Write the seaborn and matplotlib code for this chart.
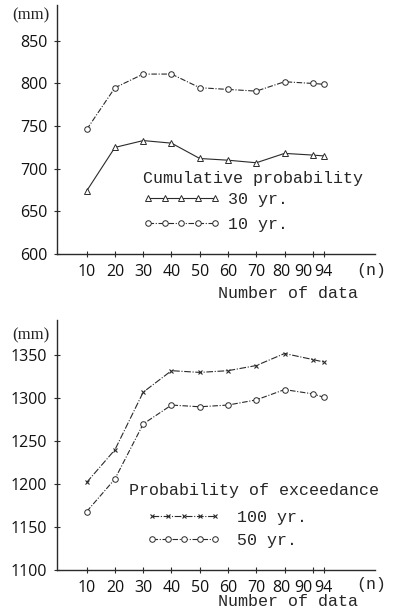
import matplotlib
matplotlib.use("Agg")
import matplotlib.pyplot as plt
import matplotlib.transforms as mtransforms
import seaborn as sns
import pandas as pd

n_data = [10, 20, 30, 40, 50, 60, 70, 80, 90, 94]
x_ticks = [10, 20, 30, 40, 50, 60, 70, 80, 90, 94]

cum_30yr = [674, 725, 733, 730, 712, 710, 707, 718, 716, 715]
cum_10yr = [746, 795, 811, 811, 795, 793, 791, 802, 800, 799]
exc_100yr = [1202, 1240, 1307, 1332, 1330, 1332, 1338, 1352, 1345, 1342]
exc_50yr = [1168, 1206, 1270, 1292, 1290, 1292, 1298, 1310, 1305, 1301]

top_yticks = [600, 650, 700, 750, 800, 850]
bot_yticks = [1100, 1150, 1200, 1250, 1300, 1350]

sns.set_style("ticks")
plt.rcParams['font.family'] = ['Liberation Mono', 'DejaVu Sans']

W, H = 398, 613
fig = plt.figure(figsize=(W / 100, H / 100), dpi=100)

def fx(px):
    return px / W

def fy(py):
    return 1 - py / H

num_font = dict(family=['Open Sans', 'DejaVu Sans'], size=11.5)
mono = ['Liberation Mono', 'DejaVu Sans']
col = '#2a2a2a'

def style_axis(ax, ylim, yticks):
    ax.set_xlim(-0.5, 112)
    ax.set_ylim(*ylim)
    ax.set_xticks(x_ticks)
    ax.set_yticks(yticks)
    ax.set_xticklabels([str(v) for v in x_ticks], fontdict=num_font)
    ax.set_yticklabels([str(v) for v in yticks], fontdict=num_font)
    ax.tick_params(direction='inout', length=4, width=0.8, color=col,
                   labelcolor='#111111')
    ax.tick_params(axis='x', pad=5)
    ax.tick_params(axis='y', pad=5)
    labels = ax.get_xticklabels()
    for lab, dx in ((labels[-3], -3), (labels[-2], -9), (labels[-1], -1)):
        off = mtransforms.ScaledTranslation(dx / 100, 0, fig.dpi_scale_trans)
        lab.set_transform(lab.get_transform() + off)
    sns.despine(ax=ax)
    for s in ['left', 'bottom']:
        ax.spines[s].set_linewidth(1.0)
        ax.spines[s].set_color(col)
    ax.set_xlabel('')
    ax.set_ylabel('')

# ---------- Top panel ----------
ax1 = fig.add_axes([fx(57), fy(254), fx(375 - 57), (254 - 5) / H])
df1 = pd.DataFrame({'n': n_data, '30 yr.': cum_30yr, '10 yr.': cum_10yr})
sns.lineplot(data=df1, x='n', y='30 yr.', ax=ax1, color=col, lw=0.8,
             marker='^', markersize=4.5, markerfacecolor='white',
             markeredgecolor=col, markeredgewidth=0.7, linestyle='-')
sns.lineplot(data=df1, x='n', y='10 yr.', ax=ax1, color=col, lw=0.8,
             marker='o', markersize=4, markerfacecolor='white',
             markeredgecolor=col, markeredgewidth=0.7,
             linestyle=(0, (5, 1.5, 1, 1.5)))
style_axis(ax1, (600, 892), top_yticks)
h1 = ax1.get_lines()[:2]
ax1.legend(h1, ['30 yr.', '10 yr.'], loc='upper left',
           bbox_to_anchor=(fx(143), fy(191.7)), bbox_transform=fig.transFigure,
           frameon=False, borderpad=0, borderaxespad=0, numpoints=5,
           handlelength=4.6, handletextpad=0.5, labelspacing=0.62,
           prop=dict(family=mono, size=12))
fig.text(fx(143), fy(178), 'Cumulative probability', family=mono, size=12,
         va='center', ha='left')
fig.text(fx(12), fy(15), '(mm)', family=['Liberation Serif'], size=12,
         va='center', ha='left')
fig.text(fx(386), fy(270), '(n)', family=mono, size=12, va='center', ha='right')
fig.text(fx(358), fy(293), 'Number of data', family=mono, size=12,
         va='center', ha='right')

# ---------- Bottom panel ----------
ax2 = fig.add_axes([fx(57), fy(570), fx(375 - 57), (570 - 320) / H])
df2 = pd.DataFrame({'n': n_data, '100 yr.': exc_100yr, '50 yr.': exc_50yr})
sns.lineplot(data=df2, x='n', y='100 yr.', ax=ax2, color=col, lw=0.8,
             marker='x', markersize=3.5, markeredgecolor=col,
             markeredgewidth=0.8, linestyle=(0, (6, 1.5, 1, 1.5)))
sns.lineplot(data=df2, x='n', y='50 yr.', ax=ax2, color=col, lw=0.8,
             marker='o', markersize=4, markerfacecolor='white',
             markeredgecolor=col, markeredgewidth=0.7,
             linestyle=(0, (5, 1.5, 1, 1.5)))
style_axis(ax2, (1100, 1391), bot_yticks)
h2 = ax2.get_lines()[:2]
ax2.legend(h2, ['100 yr.', '50 yr.'], loc='upper left',
           bbox_to_anchor=(fx(147), fy(509.7)), bbox_transform=fig.transFigure,
           frameon=False, borderpad=0, borderaxespad=0, numpoints=5,
           handlelength=4.4, handletextpad=1.0, labelspacing=0.5,
           prop=dict(family=mono, size=12))
fig.text(fx(129), fy(490), 'Probability of exceedance', family=mono, size=12,
         va='center', ha='left')
fig.text(fx(12), fy(335), '(mm)', family=['Liberation Serif'], size=12,
         va='center', ha='left')
fig.text(fx(386), fy(585), '(n)', family=mono, size=12, va='center', ha='right')
fig.text(fx(358), fy(602), 'Number of data', family=mono, size=12,
         va='center', ha='right')

fig.savefig('out.png', dpi=100, facecolor='white')
